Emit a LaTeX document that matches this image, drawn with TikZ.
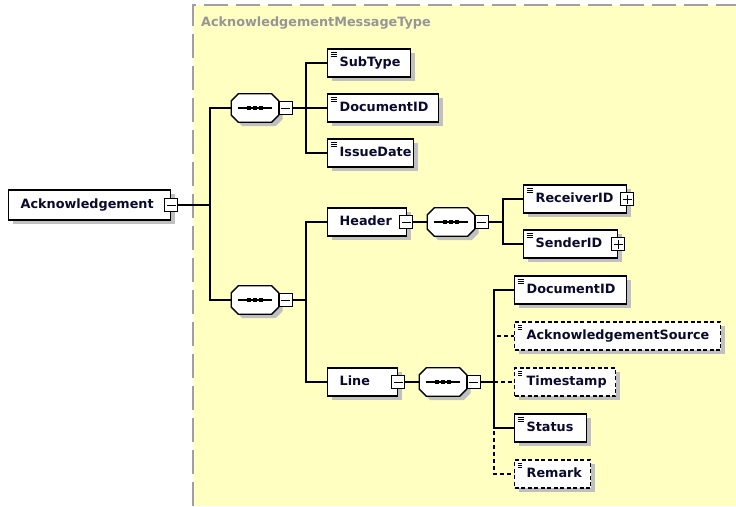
\documentclass[tikz,border=0pt]{standalone}
\usepackage{fontspec}
\setmainfont{DejaVu Sans}
\usetikzlibrary{shadows,calc}
\definecolor{bgyellow}{RGB}{255,255,194}
\definecolor{bordergray}{RGB}{160,160,160}
\definecolor{shadowgray}{RGB}{192,192,192}
\definecolor{titlegray}{RGB}{150,150,150}
\definecolor{txt}{RGB}{10,10,45}
% octagon outline around node #1, shifted by (#2,#3)
\newcommand{\octpath}[3]{($(#1.north west)+(7+#2,#3)$) -- ($(#1.north east)+(-7+#2,#3)$) -- ($(#1.north east)+(#2,7+#3)$) -- ($(#1.south east)+(#2,-7+#3)$) -- ($(#1.south east)+(-7+#2,#3)$) -- ($(#1.south west)+(7+#2,#3)$) -- ($(#1.south west)+(#2,-7+#3)$) -- ($(#1.north west)+(#2,7+#3)$) -- cycle}
\newcommand{\seqnode}[2]{%
  \node[seqbox] (#1) at (#2) {};
  \fill[shadowgray] \octpath{#1}{4}{4};
  \filldraw[fill=white, draw=black, line width=1.3pt, line join=miter] \octpath{#1}{0}{0};
  \draw[line width=1.2pt] ($(#1.center)+(-17,0)$) -- ($(#1.center)+(17,0)$);
  \foreach \d in {-6,0,6}{\fill ($(#1.center)+(\d-1.9,-1.9)$) rectangle ($(#1.center)+(\d+1.9,1.9)$);}
}
\begin{document}
\begin{tikzpicture}[x=1pt,y=-1pt,
  lbl/.style={font=\fontsize{12.8}{15}\selectfont\bfseries},
  elem/.style={lbl, draw=black, line width=1.3pt, fill=white, rectangle, anchor=west,
    minimum height=28pt, inner xsep=12pt, inner ysep=0pt, align=left, text=txt,
    text height=9.5pt, text depth=2.5pt,
    general shadow={fill=shadowgray, shadow xshift=4pt, shadow yshift=-4pt}},
  opt/.style={dash pattern=on 4pt off 2.5pt},
  icon/.style={path picture={
    \foreach \k in {3,5,7}{\draw[line width=0.8pt] ([xshift=3pt,yshift=-\k pt]path picture bounding box.north west) -- ++(6pt,0pt);}}},
  seqbox/.style={rectangle, minimum width=47pt, minimum height=28pt, inner sep=0pt},
  pm/.style={rectangle, draw=black, line width=1pt, fill=white, minimum size=13pt, inner sep=0pt,
    path picture={\draw[line width=1pt] ([xshift=-4.5pt]path picture bounding box.center) -- ([xshift=4.5pt]path picture bounding box.center);}},
  plusbox/.style={pm, path picture={\draw[line width=1pt] ([xshift=-4.5pt]path picture bounding box.center) -- ([xshift=4.5pt]path picture bounding box.center);
    \draw[line width=1pt] ([yshift=-4.5pt]path picture bounding box.center) -- ([yshift=4.5pt]path picture bounding box.center);}},
  conn/.style={line width=1.2pt, draw=black},
  dconn/.style={conn, dash pattern=on 4pt off 3pt}]
\useasboundingbox (0,0) rectangle (736,506);
% background
\fill[bgyellow] (193,5) rectangle (736,506);
\draw[bordergray, line width=1.5pt, dash pattern=on 24pt off 8pt] (193,506) -- (193,5) -- (736,5);
\node[lbl, text=titlegray, anchor=base west, inner sep=0pt] (title) at (201,27) {AcknowledgementMessageType};

% root
\node[elem, text width=138pt, minimum height=30pt] (ack) at (8,205) {Acknowledgement};
\node[pm] (ackm) at (ack.east) {};

% first sequence
\seqnode{s1}{255,108}
\node[pm] (s1m) at (285.5,108) {};
\node[elem, icon, text width=59pt] (subtype) at (327,63) {SubType};
\node[elem, icon, text width=87pt] (docid) at (327,108) {DocumentID};
\node[elem, icon, text width=62pt] (issue) at (327,153) {IssueDate};

% second sequence
\seqnode{s2}{255,300}
\node[pm] (s2m) at (285.5,300) {};
\node[elem, text width=55pt] (header) at (327,222) {Header};
\node[pm] (hm) at ([xshift=-1pt]header.east) {};
\node[elem, text width=46pt] (line) at (327,382) {Line};
\node[pm] (lm) at (line.east) {};

% header sequence
\seqnode{s3}{451,222}
\node[pm] (s3m) at (481.5,222) {};
\node[elem, icon, text width=79pt] (recv) at (523,199) {ReceiverID};
\node[plusbox] (recvp) at (recv.east) {};
\node[elem, icon, text width=70pt] (send) at (523,244) {SenderID};
\node[plusbox] (sendp) at (send.east) {};

% line sequence
\seqnode{s4}{443,382}
\node[pm] (s4m) at (473.5,382) {};
\node[elem, icon, text width=88pt] (doc2) at (514,290) {DocumentID};
\node[elem, icon, opt, text width=182pt] (asrc) at (514,336) {AcknowledgementSource};
\node[elem, icon, opt, text width=77pt] (tstamp) at (514,382) {Timestamp};
\node[elem, icon, text width=48pt] (status) at (514,428) {Status};
\node[elem, icon, opt, text width=52pt] (remark) at (514,474) {Remark};

% bus points
\coordinate (b0) at (210,205);
\coordinate (b1) at (306,108);
\coordinate (b2) at (306,300);
\coordinate (b3) at (503,222);
\coordinate (b4) at (494,382);

% connectors
\draw[conn] (ackm.east) -- (b0);
\draw[conn] (b0) |- (s1.west);
\draw[conn] (b0) |- (s2.west);
\draw[conn] (s1m.east) -- (b1);
\draw[conn] (b1) |- (subtype.west);
\draw[conn] (b1) |- (docid.west);
\draw[conn] (b1) |- (issue.west);
\draw[conn] (s2m.east) -- (b2);
\draw[conn] (b2) |- (header.west);
\draw[conn] (b2) |- (line.west);
\draw[conn] (hm.east) -- (s3.west);
\draw[conn] (s3m.east) -- (b3);
\draw[conn] (b3) |- (recv.west);
\draw[conn] (b3) |- (send.west);
\draw[conn] (lm.east) -- (s4.west);
\draw[conn] (s4m.east) -- (b4);
\draw[dconn] (b4) |- (asrc.west);
\draw[dconn] (b4) |- (tstamp.west);
\draw[dconn] (b4) |- (remark.west);
\draw[conn] (b4) |- (doc2.west);
\draw[conn] (b4) |- (status.west);
\end{tikzpicture}
\end{document}
